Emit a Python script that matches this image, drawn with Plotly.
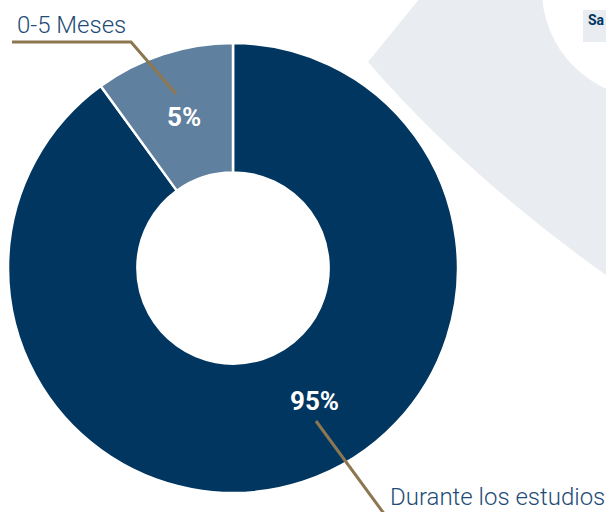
import plotly.graph_objects as go

W, H = 606, 512

categories = ["Durante los estudios", "0-5 Meses"]
slice_values = [90, 10]          # slice sizes as drawn
value_labels = ["95%", "5%"]     # labels printed on the slices
colors = ["#00365F", "#5F809E"]

NAVY_TXT = "#1E4C76"
GOLD = "#8C7751"

def px(x):
    return x / W

def py(y):
    return 1 - y / H

fig = go.Figure()

fig.add_trace(go.Pie(
    labels=categories,
    values=slice_values,
    hole=0.425,
    sort=False,
    direction="counterclockwise",
    rotation=0,
    marker=dict(colors=colors, line=dict(color="white", width=2.5)),
    textinfo="none",
    hoverinfo="skip",
    showlegend=False,
    domain=dict(x=[px(8), px(458)], y=[py(493), py(43)]),
))

shapes = [
    # grey decorative background shape
    dict(type="path", xref="paper", yref="paper", layer="below",
         path=f"M {px(368)} {py(62)} L {px(420)} {py(-2)} L {px(620)} {py(-2)} L {px(620)} {py(285)} "
              f"Q {px(470)} {py(180)} {px(368)} {py(62)} Z",
         fillcolor="#E9ECF0", line=dict(width=0)),
    # white circle cut-out
    dict(type="circle", xref="paper", yref="paper", layer="below",
         x0=px(650 - 108), x1=px(650 + 108), y0=py(-10 + 108), y1=py(-10 - 108),
         fillcolor="white", line=dict(width=0)),
    # small grey box
    dict(type="rect", xref="paper", yref="paper", layer="below",
         x0=px(583), x1=px(610), y0=py(42), y1=py(10),
         fillcolor="#E9ECF0", line=dict(width=0)),
    # leader lines
    dict(type="path", xref="paper", yref="paper",
         path=f"M {px(12)} {py(42)} L {px(131)} {py(42)} L {px(176)} {py(94)}",
         line=dict(color=GOLD, width=3)),
    dict(type="line", xref="paper", yref="paper",
         x0=px(316), y0=py(421), x1=px(385), y1=py(515),
         line=dict(color=GOLD, width=3)),
]

annotations = [
    dict(text=value_labels[1], x=px(184), y=py(117), xref="paper", yref="paper",
         showarrow=False, font=dict(family="Roboto", size=26, color="white", weight="bold"),
         xanchor="center", yanchor="middle"),
    dict(text=value_labels[0], x=px(314), y=py(401), xref="paper", yref="paper",
         showarrow=False, font=dict(family="Roboto", size=26, color="white", weight="bold"),
         xanchor="center", yanchor="middle"),
    dict(text=categories[1], x=px(15), y=py(25), xref="paper", yref="paper",
         showarrow=False, font=dict(family="Roboto", size=24, color=NAVY_TXT, weight=300),
         xanchor="left", yanchor="middle"),
    dict(text=categories[0], x=px(388), y=py(497), xref="paper", yref="paper",
         showarrow=False, font=dict(family="Roboto", size=24, color=NAVY_TXT, weight=300),
         xanchor="left", yanchor="middle"),
    dict(text="Sa", x=px(586), y=py(20), xref="paper", yref="paper",
         showarrow=False, font=dict(family="Roboto", size=14, color="#00365F", weight="bold"),
         xanchor="left", yanchor="middle"),
]

fig.update_layout(
    width=W, height=H,
    margin=dict(l=0, r=0, t=0, b=0),
    paper_bgcolor="white", plot_bgcolor="white",
    shapes=shapes, annotations=annotations,
)

fig.write_html(
    "out.html",
    config=dict(displayModeBar=False),
    post_script="document.body.style.margin='0';document.body.style.overflow='hidden';",
)
